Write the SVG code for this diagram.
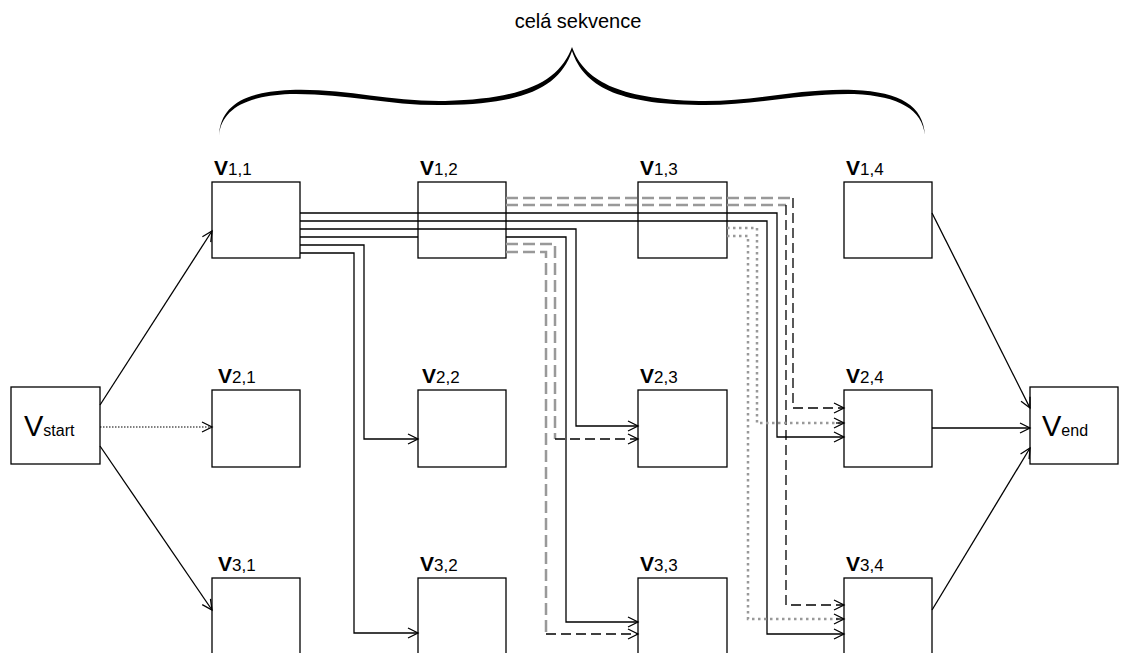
<svg xmlns="http://www.w3.org/2000/svg" width="1134" height="653" viewBox="0 0 1134 653">
<style>
.box{fill:#fff;stroke:#000;stroke-width:1.3}
.lbl{font-family:"Liberation Sans",Arial,sans-serif;fill:#000}
.V{font-size:21px;font-weight:bold}
.sub{font-size:17px;font-weight:normal}
.c{fill:none;stroke:#000;stroke-width:1.3}
.sol{marker-end:url(#ah)}
.dash{stroke-dasharray:10,5}
.gdash{stroke:#999;stroke-width:2.5;stroke-dasharray:12,5}
.gdot{stroke:#999;stroke-width:2.5;stroke-dasharray:2.5,3.5}
.dot{stroke-dasharray:1.5,1.5;stroke-width:1.1}
</style>
<defs>
<marker id="ah" markerUnits="userSpaceOnUse" markerWidth="12" markerHeight="12" refX="10" refY="5" orient="auto" overflow="visible">
<path d="M0,0 L10,5 L0,10" fill="none" stroke="#000" stroke-width="1.3" stroke-dasharray="none"/>
</marker>
</defs>
<rect width="1134" height="653" fill="#fff"/>

<g id="brace">
<text class="lbl" x="578" y="28" font-size="20" text-anchor="middle" fill="#111">celá sekvence</text>
<path d="M219,135 C221,106 243,92 290,90 C345,88 390,102 445,101 C527,99 560,80 572,47 C584,80 617,99 699,101 C754,102 799,88 854,90 C901,92 923,106 925,135 C922,110 900,96 854,94 C799,93 754,106 699,105 C617,104 584,86 572,51 C560,86 527,104 445,105 C390,106 345,93 290,94 C244,96 222,110 219,135 Z" fill="#000"/>
</g>

<g id="vstart"><rect class="box" x="11" y="387" width="89" height="77"/><text class="lbl" x="24" y="436"><tspan font-size="29">V</tspan><tspan font-size="16">start</tspan></text></g>
<g id="vend"><rect class="box" x="1030" y="387" width="88" height="77"/><text class="lbl" x="1042" y="436"><tspan font-size="29">V</tspan><tspan font-size="16">end</tspan></text></g>

<g id="v11"><rect class="box" x="212" y="182" width="88" height="76"/><text class="lbl" x="214" y="175"><tspan class="V">V</tspan><tspan class="sub">1,1</tspan></text></g>
<g id="v12"><rect class="box" x="418" y="182" width="88" height="76"/><text class="lbl" x="420" y="175"><tspan class="V">V</tspan><tspan class="sub">1,2</tspan></text></g>
<g id="v13"><rect class="box" x="638" y="182" width="89" height="76"/><text class="lbl" x="640" y="175"><tspan class="V">V</tspan><tspan class="sub">1,3</tspan></text></g>
<g id="v14"><rect class="box" x="844" y="182" width="88" height="76"/><text class="lbl" x="846" y="175"><tspan class="V">V</tspan><tspan class="sub">1,4</tspan></text></g>

<g id="v21"><rect class="box" x="212" y="390" width="88" height="77"/><text class="lbl" x="218" y="383"><tspan class="V">V</tspan><tspan class="sub">2,1</tspan></text></g>
<g id="v22"><rect class="box" x="418" y="390" width="88" height="77"/><text class="lbl" x="422" y="383"><tspan class="V">V</tspan><tspan class="sub">2,2</tspan></text></g>
<g id="v23"><rect class="box" x="638" y="390" width="89" height="77"/><text class="lbl" x="640" y="383"><tspan class="V">V</tspan><tspan class="sub">2,3</tspan></text></g>
<g id="v24"><rect class="box" x="844" y="390" width="88" height="77"/><text class="lbl" x="846" y="383"><tspan class="V">V</tspan><tspan class="sub">2,4</tspan></text></g>

<g id="v31"><rect class="box" x="212" y="578" width="88" height="90"/><text class="lbl" x="218" y="571"><tspan class="V">V</tspan><tspan class="sub">3,1</tspan></text></g>
<g id="v32"><rect class="box" x="418" y="578" width="88" height="90"/><text class="lbl" x="420" y="571"><tspan class="V">V</tspan><tspan class="sub">3,2</tspan></text></g>
<g id="v33"><rect class="box" x="638" y="578" width="89" height="90"/><text class="lbl" x="640" y="571"><tspan class="V">V</tspan><tspan class="sub">3,3</tspan></text></g>
<g id="v34"><rect class="box" x="844" y="578" width="88" height="90"/><text class="lbl" x="846" y="571"><tspan class="V">V</tspan><tspan class="sub">3,4</tspan></text></g>

<g id="connectors">
<path class="c sol" d="M100,405 L212,231"/>
<path class="c sol dot" d="M100,427 H212"/>
<path class="c sol" d="M100,446 L212,610"/>
<path class="c sol" d="M932,213 L1030,408"/>
<path class="c sol" d="M932,428 H1030"/>
<path class="c sol" d="M932,610 L1030,448"/>
<path class="c sol" d="M300,213 H777 V437 H844"/>
<path class="c sol" d="M300,221 H767 V634 H844"/>
<path class="c sol" d="M300,229 H576 V426 H638"/>
<path class="c sol" d="M300,237 H418 M506,237 H566 V622 H638"/>
<path class="c sol" d="M300,245 H364 V439 H418"/>
<path class="c sol" d="M300,253 H354 V633 H418"/>
<path class="c gdash" d="M506,198 H793"/>
<path class="c dash sol" d="M793,198 V408 H844"/>
<path class="c gdash" d="M506,205 H786"/>
<path class="c dash sol" d="M786,205 V605 H844"/>
<path class="c gdash" d="M506,244 H555 V439"/>
<path class="c dash sol" d="M555,439 H638"/>
<path class="c gdash" d="M506,252 H546 V634"/>
<path class="c dash sol" d="M546,634 H638"/>
<path class="c gdot" d="M727,228 H757 V423 H841"/>
<path class="c sol" d="M836,423 H844"/>
<path class="c gdot" d="M727,236 H748 V619 H841"/>
<path class="c sol" d="M836,619 H844"/>
</g>
</svg>
